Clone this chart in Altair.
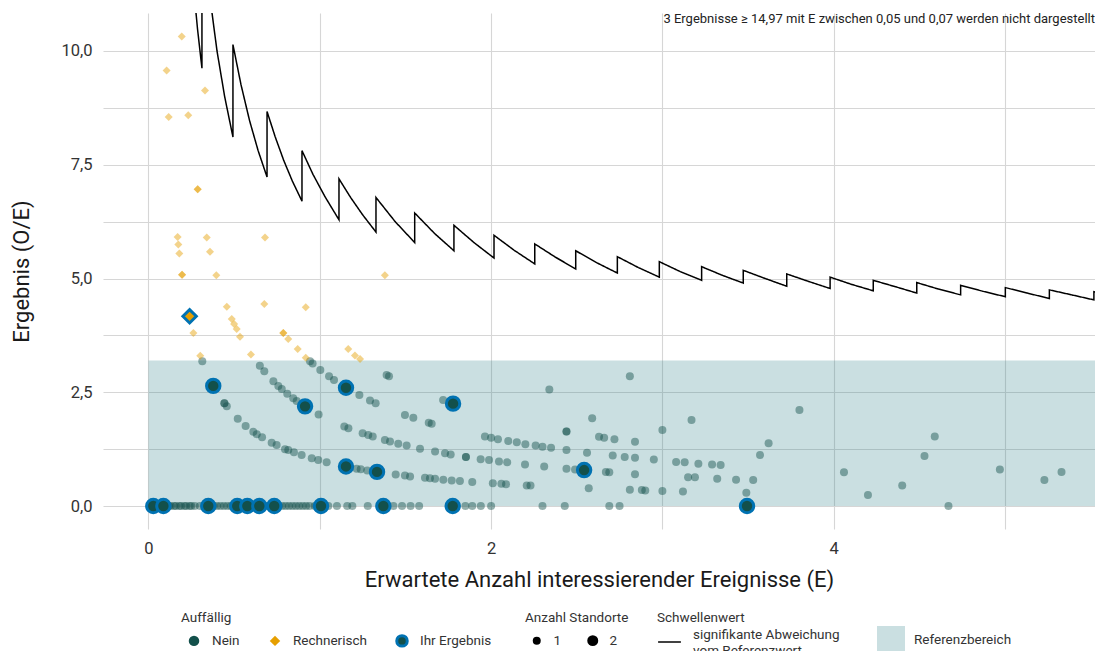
import altair as alt
import pandas as pd

# ---------------- data ----------------
# Threshold (sawtooth) vertices: E and O/E
thr_E = [0.261, 0.286, 0.312,
         0.312, 0.35, 0.40, 0.445, 0.493,
         0.493, 0.54, 0.59, 0.64, 0.692,
         0.692, 0.74, 0.79, 0.84, 0.896,
         0.896, 0.96, 1.03, 1.112,
         1.112, 1.18, 1.25, 1.328,
         1.328, 1.44, 1.554,
         1.554, 1.67, 1.783,
         1.783, 1.90, 2.017,
         2.017, 2.135, 2.255,
         2.255, 2.375, 2.494,
         2.494, 2.615, 2.737,
         2.737, 2.86, 2.982,
         2.982, 3.105, 3.229,
         3.229, 3.35, 3.472,
         3.472, 3.60, 3.726,
         3.726, 3.85, 3.979,
         3.979, 4.105, 4.231,
         4.231, 4.36, 4.485,
         4.485, 4.61, 4.741,
         4.741, 4.87, 5.002,
         5.002, 5.13, 5.259,
         5.259, 5.39, 5.519,
         5.519, 5.60]
thr_y = [11.49, 10.49, 9.62,
         12.82, 11.43, 10.0, 8.99, 8.11,
         10.14, 9.26, 8.47, 7.81, 7.23,
         8.67, 8.11, 7.59, 7.14, 6.70,
         7.81, 7.29, 6.80, 6.29,
         7.19, 6.78, 6.40, 6.02,
         6.78, 6.25, 5.79,
         6.44, 5.99, 5.61,
         6.17, 5.79, 5.45,
         5.95, 5.62, 5.32,
         5.76, 5.47, 5.21,
         5.61, 5.35, 5.12,
         5.48, 5.24, 5.03,
         5.37, 5.15, 4.96,
         5.26, 5.07, 4.90,
         5.18, 5.00, 4.83,
         5.10, 4.94, 4.78,
         5.03, 4.87, 4.73,
         4.96, 4.82, 4.68,
         4.91, 4.77, 4.64,
         4.85, 4.72, 4.60,
         4.80, 4.68, 4.56,
         4.75, 4.64, 4.53,
         4.71, 4.64]
thr_label = "signifikante Abweichung vom Referenzwert"

# Reference range
ref_E = [0.0, 5.537]
ref_y = [0.0, 3.2]
ref_label = "Referenzbereich"

# Not conspicuous ("Nein") results
nein_E = [0.04, 0.06, 0.10, 0.12, 0.13, 0.15, 0.16, 0.18, 0.19, 0.21, 0.22, 0.24, 0.25, 0.27, 0.30,
          0.38, 0.40, 0.42, 0.44, 0.46, 0.48, 0.50, 0.53, 0.60, 0.62, 0.66, 0.68, 0.70, 0.76, 0.78,
          0.80, 0.82, 0.84, 0.86, 0.88, 0.90, 0.92, 0.94, 0.97, 1.05, 1.10, 1.16, 1.19, 1.28, 1.43,
          1.48, 1.53, 1.58, 1.85, 1.89, 1.94, 2.00, 2.30, 2.43, 2.69, 2.75, 4.67,
          0.314, 0.443, 0.443, 0.457, 0.521, 0.567, 0.612, 0.632, 0.663, 0.719, 0.748, 0.797, 0.816,
          0.849, 0.894, 0.953, 0.991, 1.04, 1.215, 1.239, 1.277, 1.443, 1.497, 1.527, 1.614, 1.643,
          1.673, 1.721, 1.77, 1.818, 1.89, 2.01, 2.06, 2.087, 2.208, 2.23, 2.57, 2.81, 2.88, 2.90,
          3.00, 3.12, 3.49, 4.20,
          0.65, 0.676, 0.729, 0.758, 0.778, 0.81, 0.845, 0.865, 0.993, 1.143, 1.167, 1.25, 1.283,
          1.309, 1.38, 1.41, 1.458, 1.507, 1.585, 1.673, 1.731, 1.764, 1.853, 1.853, 1.939, 1.988,
          2.046, 2.094, 2.198, 2.31, 2.44, 2.49, 2.67, 2.69, 2.84, 3.15, 3.19, 3.32, 3.43, 3.53, 4.40,
          0.943, 0.958, 1.003, 1.054, 1.083, 1.231, 1.293, 1.326, 1.497, 1.546, 1.636, 1.653, 1.964,
          2.0, 2.04, 2.10, 2.15, 2.20, 2.26, 2.30, 2.35, 2.44, 2.56, 2.71, 2.78, 2.84, 2.95, 3.08,
          3.13, 3.21, 3.29, 3.34, 4.06, 5.23,
          1.39, 1.404, 1.72, 2.44, 2.44, 2.63, 2.66, 2.72, 2.84, 3.57, 4.97, 5.33,
          2.59, 3.00, 3.62, 4.53, 2.34, 3.17, 4.59, 2.81, 3.80]
nein_y = [0.0] * 57 + [
          3.18, 2.26, 2.26, 2.19, 1.92, 1.76, 1.63, 1.58, 1.51, 1.39, 1.34, 1.25, 1.23,
          1.18, 1.12, 1.05, 1.01, 0.96, 0.82, 0.81, 0.78, 0.69, 0.67, 0.65, 0.62, 0.61,
          0.60, 0.58, 0.56, 0.55, 0.53, 0.50, 0.49, 0.48, 0.45, 0.45, 0.39, 0.36, 0.35, 0.34,
          0.33, 0.32, 0.29, 0.24,
          3.08, 2.96, 2.74, 2.64, 2.57, 2.47, 2.37, 2.31, 2.01, 1.75, 1.71, 1.60, 1.56,
          1.53, 1.45, 1.42, 1.37, 1.33, 1.26, 1.20, 1.16, 1.13, 1.08, 1.08, 1.03, 1.01,
          0.98, 0.96, 0.91, 0.87, 0.82, 0.80, 0.75, 0.74, 0.70, 0.63, 0.63, 0.60, 0.58, 0.57, 0.45,
          3.18, 3.13, 2.99, 2.85, 2.77, 2.44, 2.32, 2.26, 2.00, 1.94, 1.83, 1.81, 1.53,
          1.50, 1.47, 1.43, 1.40, 1.36, 1.33, 1.30, 1.28, 1.23, 1.17, 1.11, 1.08, 1.06, 1.02, 0.97,
          0.96, 0.93, 0.91, 0.90, 0.74, 0.57,
          2.88, 2.85, 2.33, 1.64, 1.64, 1.52, 1.50, 1.47, 1.41, 1.12, 0.80, 0.75,
          1.93, 1.67, 1.38, 1.10, 2.56, 1.89, 1.53, 2.85, 2.11]

# Conspicuous by calculation ("Rechnerisch") results
rech_E = [0.194, 0.106, 0.33, 0.118, 0.232, 0.287, 0.287, 0.17, 0.174, 0.18, 0.34, 0.359, 0.68,
          0.196, 0.196, 0.396, 1.38, 0.457, 0.676, 0.918, 0.262, 0.486, 0.50, 0.515, 0.534,
          0.787, 0.787, 0.816, 0.871, 1.166, 0.598, 0.302, 0.918, 1.205, 1.235]
rech_y = [10.32, 9.57, 9.13, 8.55, 8.59, 6.96, 6.96, 5.91, 5.75, 5.55, 5.90, 5.59, 5.90,
          5.08, 5.08, 5.07, 5.07, 4.38, 4.44, 4.37, 3.80, 4.11, 4.00, 3.89, 3.72,
          3.80, 3.80, 3.67, 3.45, 3.45, 3.33, 3.30, 3.26, 3.31, 3.23]

# "Ihr Ergebnis" (own results)
hl_E = [0.028, 0.087, 0.349, 0.518, 0.577, 0.647, 0.734, 1.007, 1.371, 1.776, 3.494,
        0.378, 0.914, 1.153, 1.778, 1.153, 1.334, 2.543, 0.24]
hl_y = [0.0, 0.0, 0.0, 0.0, 0.0, 0.0, 0.0, 0.0, 0.0, 0.0, 0.0,
        2.64, 2.19, 2.60, 2.25, 0.87, 0.75, 0.79, 4.17]
hl_group = ["Nein"] * 18 + ["Rechnerisch"]

groups = ["Nein", "Rechnerisch", "Ihr Ergebnis"]
standorte = [1, 2]

note = "3 Ergebnisse \u2265 14,97 mit E zwischen 0,05 und 0,07 werden nicht dargestellt"

# ---------------- frames ----------------
thr_df = pd.DataFrame({"E": thr_E, "y": thr_y, "i": list(range(len(thr_E))), "thr": thr_label})
ref_df = pd.DataFrame({"E": [ref_E[0]], "E2": [ref_E[1]], "y": [ref_y[0]], "y2": [ref_y[1]], "ref": [ref_label]})
pts_df = pd.DataFrame({
    "E": nein_E + rech_E,
    "y": nein_y + rech_y,
    "group": ["Nein"] * len(nein_E) + ["Rechnerisch"] * len(rech_E),
    "n": [standorte[0]] * (len(nein_E) + len(rech_E)),
})
hl_df = pd.DataFrame({"E": hl_E, "y": hl_y, "group": hl_group})

# ---------------- scales / axes ----------------
TEAL = "#13504b"
ORANGE = "#E69F00"
BLUE = "#0072B2"

xs = alt.Scale(domain=[-0.2656, 5.5254], nice=False, zero=False)
ys = alt.Scale(domain=[-0.505, 10.835], nice=False, zero=False)

xaxis = alt.Axis(values=[0, 1, 2, 3, 4, 5],
                 labelExpr="datum.value % 2 == 0 ? format(datum.value, 'd') : ''",
                 title="Erwartete Anzahl interessierender Ereignisse (E)",
                 labelPadding=11, titlePadding=13)
yaxis = alt.Axis(values=[0, 1.25, 2.5, 3.75, 5, 6.25, 7.5, 8.75, 10],
                 labelExpr="datum.value % 2.5 == 0 ? replace(format(datum.value, '.1f'), '.', ',') : ''",
                 title="Ergebnis (O/E)", labelPadding=11, titlePadding=27)

fill_scale = alt.Scale(domain=groups, range=[TEAL, ORANGE, TEAL])
shape_scale = alt.Scale(domain=groups, range=["circle", "diamond", "circle"])
stroke_scale = alt.Scale(domain=groups, range=["transparent", "transparent", BLUE])

leg_auff = alt.Legend(title="Auffällig", orient="none", legendX=78, legendY=598,
                      direction="horizontal", symbolSize=110, symbolStrokeWidth=3,
                      symbolOffset=6, symbolOpacity=1, titlePadding=9, columnPadding=22,
                      labelOffset=11, labelFontSize=13.5)
leg_size = alt.Legend(title="Anzahl Standorte", orient="none", legendX=422, legendY=598,
                      direction="horizontal", symbolFillColor="black", symbolStrokeColor="black",
                      symbolStrokeWidth=0, symbolOpacity=1, symbolOffset=5, titlePadding=9,
                      columnPadding=19, labelOffset=10, labelFontSize=13.5)
leg_thr = alt.Legend(title="Schwellenwert", orient="none", legendX=554, legendY=598,
                     symbolType="stroke", symbolStrokeColor="black", symbolStrokeWidth=1.5,
                     symbolSize=520, titlePadding=5, labelOffset=11, labelBaseline="bottom",
                     labelFontSize=13.5,
                     labelExpr="['signifikante Abweichung', 'vom Referenzwert']")
leg_ref = alt.Legend(title=None, orient="none", legendX=774, legendY=613,
                     symbolType="square", symbolSize=784, symbolOpacity=0.25,
                     symbolStrokeWidth=0, labelOffset=9, labelFontSize=13.5)

# ---------------- layers ----------------
rect = alt.Chart(ref_df).mark_rect(opacity=0.25, clip=True).encode(
    x=alt.X("E:Q", scale=xs, axis=xaxis),
    x2="E2:Q",
    y=alt.Y("y:Q", scale=ys, axis=yaxis),
    y2="y2:Q",
    color=alt.Color("ref:N", scale=alt.Scale(domain=[ref_label], range=["#2b7f87"]), legend=leg_ref),
)

line = alt.Chart(thr_df).mark_line(color="black", strokeWidth=1.5, clip=True).encode(
    x=alt.X("E:Q", scale=xs, axis=xaxis),
    y=alt.Y("y:Q", scale=ys, axis=yaxis),
    order=alt.Order("i:Q"),
    strokeDash=alt.StrokeDash("thr:N", scale=alt.Scale(domain=[thr_label], range=[[1, 0]]), legend=leg_thr),
)

pts = alt.Chart(pts_df).mark_point(filled=True, opacity=0.45).encode(
    x=alt.X("E:Q", scale=xs, axis=xaxis),
    y=alt.Y("y:Q", scale=ys, axis=yaxis),
    fill=alt.Fill("group:N", scale=fill_scale, legend=leg_auff),
    shape=alt.Shape("group:N", scale=shape_scale, legend=leg_auff),
    stroke=alt.Stroke("group:N", scale=stroke_scale, legend=leg_auff),
    size=alt.Size("n:O", scale=alt.Scale(domain=standorte, range=[64, 120]), legend=leg_size),
)

hl = alt.Chart(hl_df).mark_point(filled=True, opacity=1, stroke=BLUE, strokeWidth=3, size=180).encode(
    x=alt.X("E:Q", scale=xs, axis=xaxis),
    y=alt.Y("y:Q", scale=ys, axis=yaxis),
    fill=alt.Fill("group:N", scale=fill_scale, legend=leg_auff),
    shape=alt.Shape("group:N", scale=shape_scale, legend=leg_auff),
)

chart = alt.layer(rect, line, pts, hl).properties(
    width=992, height=516,
    padding={"left": 95, "top": 5, "right": 0, "bottom": 122},
    autosize=alt.AutoSizeParams(type="none"),
    title=alt.TitleParams(note, anchor="end", fontSize=13, fontWeight="normal",
                          color="#222222", offset=-13, dx=0),
).configure(
    font="Roboto",
).configure_axis(
    grid=True, gridColor="#d6d6d6", gridWidth=1.1, domain=False, ticks=False,
    labelColor="#333333", titleColor="#1a1a1a", labelFontSize=16.5, titleFontSize=22,
    titleFontWeight="normal",
).configure_legend(
    titleFontWeight="normal", titleFontSize=13.5, labelFontSize=13, padding=0,
    titleColor="#333333", labelColor="#333333",
).configure_view(strokeWidth=0)

chart.save("out.html", embed_options={"renderer": "svg", "actions": False})
